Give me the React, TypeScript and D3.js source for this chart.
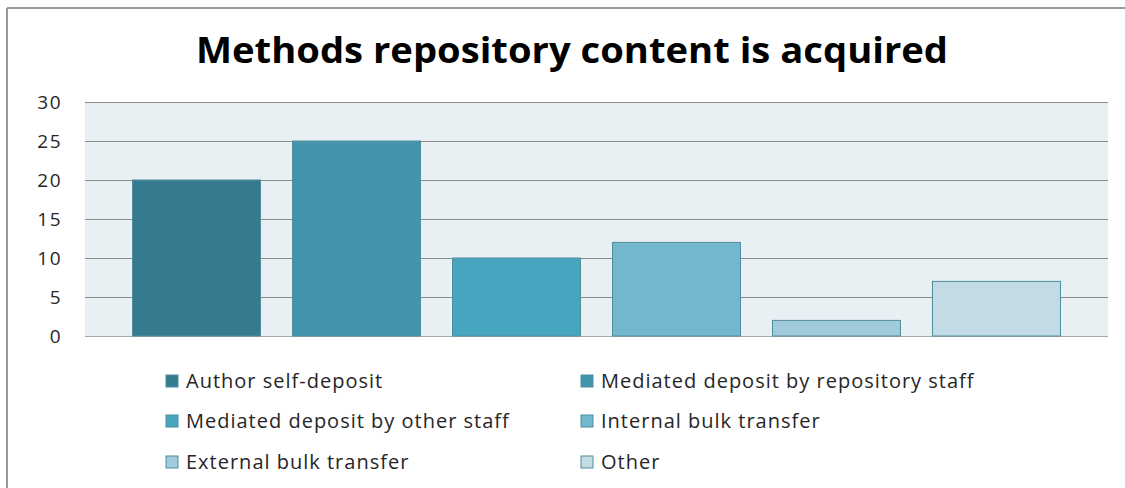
import React from "react";
import * as d3 from "d3";

const title = "Methods repository content is acquired";
const series = [
  "Author self-deposit",
  "Mediated deposit by repository staff",
  "Mediated deposit by other staff",
  "Internal bulk transfer",
  "External bulk transfer",
  "Other",
];
const values = [20, 25, 10, 12, 2, 7];
const colors = ["#357B8F", "#4394AD", "#47A5BF", "#72B7CE", "#A0CBDA", "#C2DBE4"];
const yTicks = [0, 5, 10, 15, 20, 25, 30];

export default function App() {
  const W = 1125, H = 488;
  const plotL = 85, plotR = 1108, plotT = 102, plotB = 336;
  const x = d3.scaleBand<string>().domain(series).range([plotL, plotR]).paddingInner(0.2).paddingOuter(0.297);
  const y = d3.scaleLinear().domain([0, 30]).range([plotB, plotT]);
  const font = "'Open Sans', 'DejaVu Sans', sans-serif";
  const legendCols = [166, 581];
  const legendRows = [381, 421, 462];
  return (
    <svg width={W} height={H} style={{ position: "absolute", left: 0, top: 0, background: "#fff" }}>
      <rect x={0} y={0} width={W} height={H} fill="#fff" />
      <line x1={7} y1={8} x2={1125} y2={8} stroke="#9a9a9a" strokeWidth={2} />
      <line x1={7} y1={8} x2={7} y2={488} stroke="#9a9a9a" strokeWidth={2} />
      <text x={572} y={63} textAnchor="middle" fontFamily={font} fontWeight="bold" fontSize={35}
        textLength={752} lengthAdjust="spacingAndGlyphs" fill="#000">{title}</text>
      <rect x={plotL} y={plotT} width={plotR - plotL} height={plotB - plotT} fill="#E8F0F4" />
      {yTicks.map((t) => (
        <g key={t}>
          <line x1={plotL} x2={plotR} y1={y(t) + 0.5} y2={y(t) + 0.5} stroke={t === 0 ? "#a8a8a8" : "#8c8c8c"} strokeWidth={1} />
          <text x={62} y={y(t) + 7} textAnchor="end" fontFamily={font} fontSize={19} letterSpacing={1.5} fill="#262626">{t}</text>
        </g>
      ))}
      {series.map((s, i) => (
        <rect key={s} x={x(s)!} y={y(values[i])} width={x.bandwidth()} height={plotB - y(values[i])}
          fill={colors[i]} stroke="#4F8E9E" strokeWidth={1} />
      ))}
      {series.map((s, i) => {
        const cx = legendCols[i % 2];
        const cy = legendRows[Math.floor(i / 2)];
        return (
          <g key={"lg" + s}>
            <rect x={cx} y={cy - 6} width={12} height={12} fill={colors[i]} stroke="#4F8E9E" strokeWidth={1} />
            <text x={cx + 20} y={cy + 7} fontFamily={font} fontSize={20} letterSpacing={1} fill="#262626">{s}</text>
          </g>
        );
      })}
    </svg>
  );
}
